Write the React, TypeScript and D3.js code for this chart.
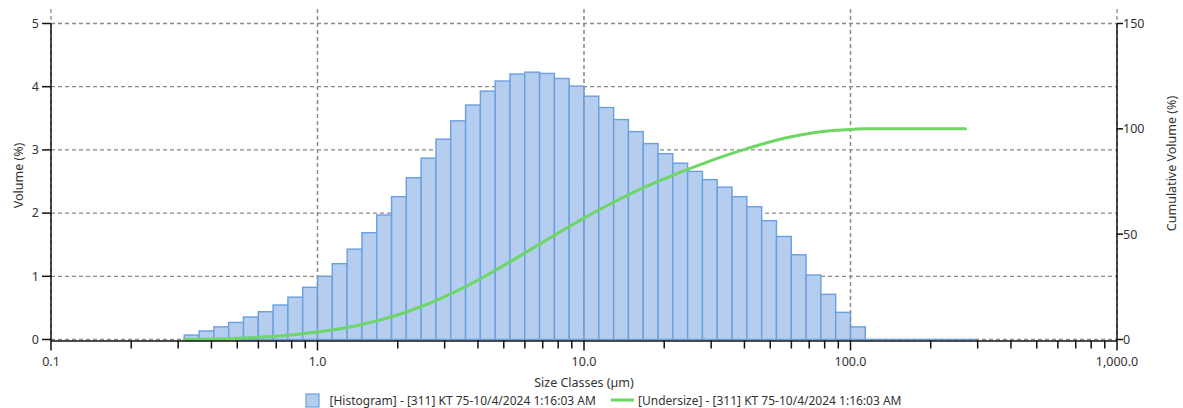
import React from "react";
import * as d3 from "d3";

// Size class bin edges (µm), 18 classes per decade
const binEdges = [
  0.3162, 0.3594, 0.4084, 0.4642, 0.5275, 0.5995, 0.6813, 0.7743, 0.8799,
  1.0, 1.136, 1.292, 1.468, 1.668, 1.896, 2.154, 2.448, 2.783, 3.162, 3.594,
  4.084, 4.642, 5.275, 5.995, 6.813, 7.743, 8.799,
  10.0, 11.36, 12.92, 14.68, 16.68, 18.96, 21.54, 24.48, 27.83, 31.62, 35.94,
  40.84, 46.42, 52.75, 59.95, 68.13, 77.43, 87.99,
  100.0, 113.6,
];

// Volume (%) per class
const volumes = [
  0.07, 0.135, 0.2, 0.27, 0.356, 0.44, 0.546, 0.67, 0.826,
  1.0, 1.2, 1.43, 1.69, 1.97, 2.26, 2.56, 2.87, 3.17, 3.46, 3.71, 3.93, 4.09,
  4.2, 4.23, 4.21, 4.13, 4.01,
  3.85, 3.67, 3.48, 3.29, 3.1, 2.94, 2.79, 2.66, 2.53, 2.41, 2.26, 2.1, 1.88,
  1.63, 1.34, 1.02, 0.715, 0.43, 0.2,
];

// Empty classes drawn along the baseline
const emptyRange = [113.6, 300];

// Undersize (cumulative) curve
const undersizeSizes = [...binEdges, 270];
const undersizeValues = [
  0, 0.07, 0.2, 0.4, 0.68, 1.03, 1.47, 2.02, 2.69,
  3.51, 4.51, 5.71, 7.14, 8.83, 10.8, 13.06, 15.62, 18.49, 21.66, 25.12,
  28.83, 32.76, 36.85, 41.05, 45.28, 49.49, 53.62,
  57.63, 61.48, 65.15, 68.63, 71.92, 75.02, 77.96, 80.75, 83.41, 85.94,
  88.35, 90.61, 92.71, 94.59, 96.22, 97.56, 98.58, 99.3,
  99.73, 100, 100,
];

const xMajorTicks = [0.1, 1, 10, 100, 1000];
const xTickLabels = ["0.1", "1.0", "10.0", "100.0", "1,000.0"];
const leftTicks = [0, 1, 2, 3, 4, 5];
const rightTicks = [0, 50, 100, 150];

const xTitle = "Size Classes (µm)";
const leftTitle = "Volume (%)";
const rightTitle = "Cumulative Volume (%)";
const legendHist = "[Histogram] - [311] KT 75-10/4/2024 1:16:03 AM";
const legendUnder = "[Undersize] - [311] KT 75-10/4/2024 1:16:03 AM";

const W = 1183;
const H = 408;
const X0 = 51;
const X1 = 1117;
const Y0 = 339.5;
const YTOP = 23.5;
const PLOT_TOP = 9;

const FONT = "'Noto Sans', 'Open Sans', sans-serif";
const TXT = "#333";
const GRID = "#8a8a8a";
const BAR_FILL = "#b5cdee";
const BAR_STROKE = "#6a9fe0";
const GREEN = "#6dd665";

export default function App() {
  const x = d3.scaleLog().domain([0.1, 1000]).range([X0, X1]);
  const yL = d3.scaleLinear().domain([0, 5]).range([Y0, YTOP]);
  const yR = d3.scaleLinear().domain([0, 150]).range([Y0, YTOP]);

  const minorTicks: number[] = [];
  for (let d = 0; d < 4; d++) {
    const base = xMajorTicks[d];
    for (let m = 2; m <= 9; m++) minorTicks.push(base * m);
  }

  const line = d3
    .line<number>()
    .x((_, i) => x(undersizeSizes[i]))
    .y((v) => yR(v))
    .curve(d3.curveMonotoneX);

  return (
    <svg
      width={W}
      height={H}
      style={{ position: "absolute", left: 0, top: 0, background: "#fff" }}
      fontFamily={FONT}
    >
      <rect x={0} y={0} width={W} height={H} fill="#fff" />
      {/* horizontal grid */}
      {leftTicks.map((t) => (
        <line
          key={"hg" + t}
          x1={X0}
          x2={X1}
          y1={yL(t)}
          y2={yL(t)}
          stroke={GRID}
          strokeWidth={1.3}
          strokeDasharray="4,3"
        />
      ))}
      {/* vertical grid */}
      {xMajorTicks.map((t) => (
        <line
          key={"vg" + t}
          x1={x(t)}
          x2={x(t)}
          y1={PLOT_TOP}
          y2={Y0}
          stroke={GRID}
          strokeWidth={1.3}
          strokeDasharray="4,3"
        />
      ))}

      {/* histogram bars */}
      {volumes.map((v, i) => (
        <rect
          key={"b" + i}
          x={x(binEdges[i])}
          y={yL(v)}
          width={x(binEdges[i + 1]) - x(binEdges[i])}
          height={Y0 - yL(v)}
          fill={BAR_FILL}
          stroke={BAR_STROKE}
          strokeWidth={1.4}
        />
      ))}
      <line
        x1={x(emptyRange[0])}
        x2={x(emptyRange[1])}
        y1={Y0}
        y2={Y0}
        stroke={BAR_STROKE}
        strokeWidth={1.4}
      />
      {/* vertical grid drawn again over the bars (dashed overlay as in reference) */}
      {xMajorTicks.slice(1, 4).map((t) => (
        <line
          key={"vg2" + t}
          x1={x(t)}
          x2={x(t)}
          y1={PLOT_TOP}
          y2={Y0}
          stroke={GRID}
          strokeOpacity={0.6}
          strokeWidth={1.3}
          strokeDasharray="4,3"
        />
      ))}

      {/* undersize curve */}
      <path
        d={line(undersizeValues) || ""}
        fill="none"
        stroke={GREEN}
        strokeWidth={3}
        strokeLinecap="round"
      />

      {/* axes */}
      <line x1={X0} x2={X1} y1={Y0 + 1.5} y2={Y0 + 1.5} stroke="#111" strokeWidth={1.5} />
      <line x1={X0} x2={X0} y1={YTOP} y2={Y0 + 1.5} stroke="#111" strokeWidth={1.5} />
      <line x1={X1} x2={X1} y1={YTOP} y2={Y0 + 1.5} stroke="#111" strokeWidth={1.5} />

      {xMajorTicks.map((t) => (
        <line key={"xt" + t} x1={x(t)} x2={x(t)} y1={Y0 + 1} y2={Y0 + 11} stroke="#111" strokeWidth={1.5} />
      ))}
      {minorTicks.map((t) => (
        <line key={"xm" + t} x1={x(t)} x2={x(t)} y1={Y0 + 1} y2={Y0 + 9} stroke="#111" strokeWidth={1.5} />
      ))}
      {xMajorTicks.map((t, i) => (
        <text
          key={"xl" + t}
          x={x(t)}
          y={Y0 + 26}
          textAnchor="middle"
          fontSize={12.5}
          fill={TXT}
        >
          {xTickLabels[i]}
        </text>
      ))}

      {leftTicks.map((t) => (
        <g key={"lt" + t}>
          <line x1={X0 - 9} x2={X0} y1={yL(t)} y2={yL(t)} stroke="#111" strokeWidth={1.5} />
          <text x={X0 - 12} y={yL(t)} dy="0.35em" textAnchor="end" fontSize={12.5} fill={TXT}>
            {t}
          </text>
        </g>
      ))}
      {rightTicks.map((t) => (
        <g key={"rt" + t}>
          <line x1={X1} x2={X1 + 6} y1={yR(t)} y2={yR(t)} stroke="#111" strokeWidth={1.5} />
          <text x={X1 + 6} y={yR(t)} dy="0.35em" textAnchor="start" fontSize={12.5} fill={TXT}>
            {t}
          </text>
        </g>
      ))}

      <text
        transform={`translate(18.5, ${(YTOP + Y0) / 2 - 6}) rotate(-90)`}
        textAnchor="middle"
        dy="0.35em"
        fontSize={12.5}
        fill={TXT}
      >
        {leftTitle}
      </text>
      <text
        transform={`translate(1171.5, ${(YTOP + Y0) / 2 - 18}) rotate(-90)`}
        textAnchor="middle"
        dy="0.35em"
        fontSize={12.5}
        fill={TXT}
      >
        {rightTitle}
      </text>
      <text x={(X0 + X1) / 2} y={387} textAnchor="middle" fontSize={12.5} fill={TXT}>
        {xTitle}
      </text>

      {/* legend */}
      <rect x={306} y={394} width={13} height={13} fill={BAR_FILL} stroke={BAR_STROKE} strokeWidth={1.2} />
      <text x={329.5} y={404.5} fontSize={12} fill={TXT}>
        {legendHist}
      </text>
      <line x1={611} x2={634} y1={400} y2={400} stroke={GREEN} strokeWidth={3} />
      <text x={638} y={404.5} fontSize={12} fill={TXT}>
        {legendUnder}
      </text>
    </svg>
  );
}
